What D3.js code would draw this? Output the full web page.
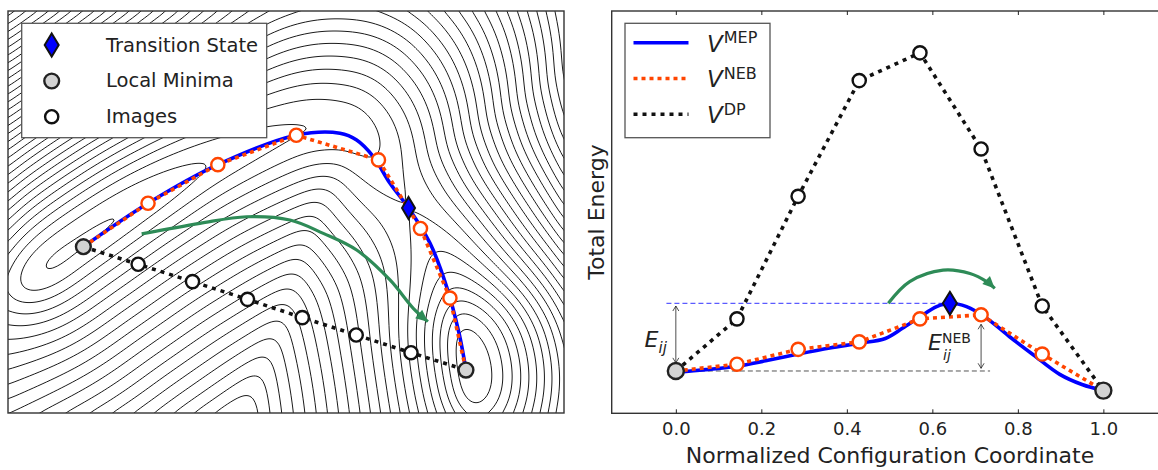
<!DOCTYPE html>
<html>
<head>
<meta charset="utf-8">
<script src="https://cdn.jsdelivr.net/npm/d3@7"></script>
<style>
  body { margin: 0; background: #fff; }
  svg { display: block; font-family: "DejaVu Sans", sans-serif; }
</style>
</head>
<body>
<svg id="fig" width="1158" height="470"></svg>
<script>
// ---------- right panel: energy along the normalized path ----------
const imageCoord = [0, 0.143, 0.286, 0.429, 0.571, 0.714, 0.857, 1.0];
const dpEnergy = [0, 0.77, 2.58, 4.29, 4.7, 3.28, 0.96, -0.29];
const nebEnergy = [0, 0.1, 0.32, 0.43, 0.77, 0.83, 0.25, -0.29];
const mepCoord = [0, 0.07, 0.143, 0.21, 0.286, 0.36, 0.429, 0.49, 0.53, 0.571, 0.61, 0.641, 0.68, 0.727, 0.78, 0.836, 0.898, 0.95, 1.0];
const mepEnergy = [-0.02, 0.02, 0.07, 0.15, 0.25, 0.34, 0.41, 0.48, 0.63, 0.8, 0.95, 1.0, 0.95, 0.78, 0.51, 0.24, -0.05, -0.2, -0.29];
const tsCoord = 0.641;
const tsEnergy = 1.0;
const xTicks = [0, 0.2, 0.4, 0.6, 0.8, 1.0];
const hopCoord = [0.497, 0.547, 0.625, 0.688, 0.727, 0.746];
const hopEnergy = [1.0, 1.32, 1.49, 1.44, 1.32, 1.22];

// ---------- left panel: configuration space (q1, q2) ----------
const nebQ1 = [-1.134, -0.82, -0.481, -0.1, 0.299, 0.503, 0.646, 0.724];
const nebQ2 = [0.71, 0.948, 1.159, 1.32, 1.185, 0.81, 0.429, 0.035];
const dpQ1 = [-1.134, -0.868, -0.604, -0.337, -0.071, 0.191, 0.457, 0.724];
const dpQ2 = [0.71, 0.614, 0.519, 0.422, 0.322, 0.227, 0.13, 0.035];
const mepQ1 = [-1.134, -0.82, -0.481, -0.1, 0.112, 0.193, 0.274, 0.355, 0.445, 0.549, 0.63, 0.69, 0.724];
const mepQ2 = [0.71, 0.948, 1.159, 1.32, 1.331, 1.294, 1.203, 1.057, 0.922, 0.73, 0.491, 0.238, 0.035];
const tsQ1 = 0.445;
const tsQ2 = 0.922;
const swingQ1 = [-0.851, -0.568, -0.341, -0.131, 0.031, 0.193, 0.355, 0.468, 0.539];
const swingQ2 = [0.78, 0.838, 0.874, 0.856, 0.783, 0.692, 0.528, 0.373, 0.3];

// valley spine of the model surface: position, energy and outer wall steepness
const spineQ1 = [-1.685, -1.393, -1.134, -0.82, -0.481, -0.1, 0.112, 0.193, 0.274, 0.355, 0.445, 0.549, 0.63, 0.69, 0.724, 0.743, 0.763];
const spineQ2 = [0.298, 0.5, 0.71, 0.948, 1.159, 1.32, 1.331, 1.294, 1.203, 1.057, 0.922, 0.73, 0.491, 0.238, 0.035, -0.129, -0.348];
const spineE = [1.6, 0.02, -0.1, -0.03, 0.22, 0.43, 0.47, 0.55, 0.73, 0.92, 1.02, 0.82, 0.3, -0.7, -0.85, -0.75, 0.6];
const spineWall = [0.04, 0.04, 0.04, 0.04, 0.036, 0.026, 0.02, 0.02, 0.024, 0.03, 0.035, 0.036, 0.036, 0.036, 0.036, 0.036, 0.036];
const innerWall = 0.021;
const innerFloor = 1.1;
const levels = d3.range(-0.75, 14, 0.25);

const colors = {
  mep: "#0000ff",
  neb: "#ff4500",
  dp: "#111",
  minimum: "#d3d3d3",
  swing: "#2e8b57",
  frame: "#333",
};

const svg = d3.select("#fig");
const defs = svg.append("defs");

defs
  .append("clipPath")
  .attr("id", "leftClip")
  .append("rect")
  .attr("x", 8)
  .attr("y", 11)
  .attr("width", 556)
  .attr("height", 402);

defs
  .append("marker")
  .attr("id", "swingHead")
  .attr("viewBox", "-13 -7 14 14")
  .attr("refX", 0)
  .attr("refY", 0)
  .attr("markerWidth", 14)
  .attr("markerHeight", 14)
  .attr("markerUnits", "userSpaceOnUse")
  .attr("orient", "auto")
  .append("path")
  .attr("d", "M-12,-5.5L0,0L-12,5.5Z")
  .attr("fill", colors.swing);

defs
  .append("marker")
  .attr("id", "gapHead")
  .attr("viewBox", "-7 -4 8 8")
  .attr("refX", 0)
  .attr("refY", 0)
  .attr("markerWidth", 8)
  .attr("markerHeight", 8)
  .attr("markerUnits", "userSpaceOnUse")
  .attr("orient", "auto-start-reverse")
  .append("path")
  .attr("d", "M-5,-3L0,0L-5,3")
  .attr("fill", "none")
  .attr("stroke", "#222")
  .attr("stroke-width", 0.8);

// ================= left panel =================
const xL = d3.scaleLinear().domain([-1.5, 1.2]).range([8, 564]);
const yL = d3.scaleLinear().domain([-0.2, 2.0]).range([413, 11]);

const knots = spineQ1.map((q, i) => [xL(q), yL(spineQ2[i]), spineE[i], spineWall[i]]);

// smooth the spine (Catmull-Rom) so the surface has no creases at the knots
const spine = [];
for (let i = 0; i < knots.length - 1; i++) {
  const p0 = knots[Math.max(0, i - 1)];
  const p1 = knots[i];
  const p2 = knots[i + 1];
  const p3 = knots[Math.min(knots.length - 1, i + 2)];
  for (let s = 0; s < 8; s++) {
    const t = s / 8;
    spine.push(
      p1.map((_, k) =>
        0.5 *
        (2 * p1[k] +
          (-p0[k] + p2[k]) * t +
          (2 * p0[k] - 5 * p1[k] + 4 * p2[k] - p3[k]) * t * t +
          (-p0[k] + 3 * p1[k] - 3 * p2[k] + p3[k]) * t * t * t)
      )
    );
  }
}
spine.push(knots[knots.length - 1]);

const segDist = new Float64Array(spine.length);
const segT = new Float64Array(spine.length);

function surface(px, py) {
  let best = Infinity;
  let side = 0;
  for (let i = 0; i < spine.length - 1; i++) {
    const a = spine[i];
    const b = spine[i + 1];
    const dx = b[0] - a[0];
    const dy = b[1] - a[1];
    let t = ((px - a[0]) * dx + (py - a[1]) * dy) / (dx * dx + dy * dy);
    t = Math.max(0, Math.min(1, t));
    const d2 = (px - a[0] - t * dx) ** 2 + (py - a[1] - t * dy) ** 2;
    segDist[i] = Math.sqrt(d2);
    segT[i] = t;
    if (d2 < best) {
      best = d2;
      side = dx * (py - a[1]) - dy * (px - a[0]);
    }
  }
  // soft nearest point: average spine energy and wall over nearby segments
  const dmin = Math.sqrt(best);
  let sw = 0;
  let se = 0;
  let sg = 0;
  for (let i = 0; i < spine.length - 1; i++) {
    const w = Math.exp(-(segDist[i] - dmin) / 14);
    if (w < 1e-4) continue;
    const a = spine[i];
    const b = spine[i + 1];
    const t = segT[i];
    sw += w;
    se += w * (a[2] + t * (b[2] - a[2]));
    sg += w * (a[3] + t * (b[3] - a[3]));
  }
  const energy = se / sw;
  const wall = sg / sw;
  const eps = 40;
  const h = Math.sqrt(best + eps * eps) - eps;
  if (side < 0) return energy + wall * h;
  // inside the bend the valley energy fades into a smooth raised floor
  const fade = Math.exp(-dmin / 55);
  return energy * fade + innerFloor * (1 - fade) + innerWall * h;
}

function boxBlur(src, w, h, r) {
  const tmp = new Float64Array(w * h);
  const out = new Float64Array(w * h);
  for (let j = 0; j < h; j++) {
    for (let i = 0; i < w; i++) {
      let s = 0;
      let n = 0;
      for (let k = -r; k <= r; k++) {
        const ii = i + k;
        if (ii >= 0 && ii < w) {
          s += src[j * w + ii];
          n++;
        }
      }
      tmp[j * w + i] = s / n;
    }
  }
  for (let j = 0; j < h; j++) {
    for (let i = 0; i < w; i++) {
      let s = 0;
      let n = 0;
      for (let k = -r; k <= r; k++) {
        const jj = j + k;
        if (jj >= 0 && jj < h) {
          s += tmp[jj * w + i];
          n++;
        }
      }
      out[j * w + i] = s / n;
    }
  }
  return out;
}

const step = 2;
const gx0 = 8 - 14;
const gy0 = 11 - 14;
const nx = Math.ceil((556 + 28) / step);
const ny = Math.ceil((402 + 28) / step);
let field = new Float64Array(nx * ny);
for (let j = 0; j < ny; j++) {
  for (let i = 0; i < nx; i++) {
    field[j * nx + i] = surface(gx0 + (i + 0.5) * step, gy0 + (j + 0.5) * step);
  }
}
for (let pass = 0; pass < 3; pass++) field = boxBlur(field, nx, ny, 4);

const contours = d3.contours().size([nx, ny]).thresholds(levels)(field);
const gridPath = d3.geoPath(d3.geoIdentity().scale(step).translate([gx0, gy0]));

const leftG = svg.append("g");
leftG.append("rect").attr("x", 8).attr("y", 11).attr("width", 556).attr("height", 402).attr("fill", "#fff");

leftG
  .append("g")
  .attr("clip-path", "url(#leftClip)")
  .selectAll("path")
  .data(contours)
  .join("path")
  .attr("d", gridPath)
  .attr("fill", "none")
  .attr("stroke", "#000")
  .attr("stroke-width", 0.9);

const qLine = d3
  .line()
  .x((d) => xL(d[0]))
  .y((d) => yL(d[1]));

leftG
  .append("path")
  .attr("d", qLine.curve(d3.curveCatmullRom)(d3.zip(mepQ1, mepQ2)))
  .attr("fill", "none")
  .attr("stroke", colors.mep)
  .attr("stroke-width", 3.6);

leftG
  .append("path")
  .attr("d", qLine.curve(d3.curveLinear)(d3.zip(nebQ1, nebQ2)))
  .attr("fill", "none")
  .attr("stroke", colors.neb)
  .attr("stroke-width", 3.6)
  .attr("stroke-dasharray", "4,4");

leftG
  .append("path")
  .attr("d", qLine.curve(d3.curveLinear)(d3.zip(dpQ1, dpQ2)))
  .attr("fill", "none")
  .attr("stroke", colors.dp)
  .attr("stroke-width", 3.6)
  .attr("stroke-dasharray", "4,5");

leftG
  .append("path")
  .attr("d", qLine.curve(d3.curveCatmullRom)(d3.zip(swingQ1, swingQ2)))
  .attr("fill", "none")
  .attr("stroke", colors.swing)
  .attr("stroke-width", 3.2)
  .attr("marker-end", "url(#swingHead)");

const inner = (arr) => arr.slice(1, -1);

leftG
  .selectAll("circle.dp")
  .data(d3.zip(inner(dpQ1), inner(dpQ2)))
  .join("circle")
  .attr("class", "dp")
  .attr("cx", (d) => xL(d[0]))
  .attr("cy", (d) => yL(d[1]))
  .attr("r", 6.6)
  .attr("fill", "#fff")
  .attr("stroke", colors.dp)
  .attr("stroke-width", 2.4);

leftG
  .selectAll("circle.neb")
  .data(d3.zip(inner(nebQ1), inner(nebQ2)))
  .join("circle")
  .attr("class", "neb")
  .attr("cx", (d) => xL(d[0]))
  .attr("cy", (d) => yL(d[1]))
  .attr("r", 6.6)
  .attr("fill", "#fff")
  .attr("stroke", colors.neb)
  .attr("stroke-width", 2.4);

leftG
  .selectAll("circle.min")
  .data([
    [nebQ1[0], nebQ2[0]],
    [nebQ1[7], nebQ2[7]],
  ])
  .join("circle")
  .attr("class", "min")
  .attr("cx", (d) => xL(d[0]))
  .attr("cy", (d) => yL(d[1]))
  .attr("r", 7.4)
  .attr("fill", colors.minimum)
  .attr("stroke", "#222")
  .attr("stroke-width", 2.4);

const diamond = (w, h) => `M0,${-h}L${w},0L0,${h}L${-w},0Z`;

leftG
  .append("path")
  .attr("transform", `translate(${xL(tsQ1)},${yL(tsQ2)})`)
  .attr("d", diamond(6.5, 11))
  .attr("fill", colors.mep)
  .attr("stroke", "#111")
  .attr("stroke-width", 2);

// legend (left)
const legL = leftG.append("g").attr("transform", "translate(21.7,23.3)");
legL.append("rect").attr("width", 245).attr("height", 114.4).attr("fill", "#fff").attr("stroke", "#555").attr("stroke-width", 1.3);
legL
  .append("path")
  .attr("transform", "translate(30,21.7)")
  .attr("d", diamond(7, 11.5))
  .attr("fill", colors.mep)
  .attr("stroke", "#111")
  .attr("stroke-width", 2);
legL.append("circle").attr("cx", 30).attr("cy", 57.7).attr("r", 7.4).attr("fill", colors.minimum).attr("stroke", "#222").attr("stroke-width", 2.4);
legL.append("circle").attr("cx", 30).attr("cy", 93.4).attr("r", 6.6).attr("fill", "#fff").attr("stroke", "#111").attr("stroke-width", 2.4);
legL
  .selectAll("text")
  .data(["Transition State", "Local Minima", "Images"])
  .join("text")
  .attr("x", 84.3)
  .attr("y", (d, i) => 28.4 + i * 35.6)
  .attr("font-size", 19.5)
  .attr("fill", "#222")
  .text((d) => d);

leftG
  .append("rect")
  .attr("x", 8)
  .attr("y", 11)
  .attr("width", 556)
  .attr("height", 402)
  .attr("fill", "none")
  .attr("stroke", colors.frame)
  .attr("stroke-width", 1.4);

// ================= right panel =================
const xR = d3.scaleLinear().domain([-0.15, 1.15]).range([611.7, 1167.5]);
const yR = d3.scaleLinear().domain([-0.625, 5.318]).range([413.3, 11]);
const rightG = svg.append("g");

rightG
  .append("rect")
  .attr("x", 611.7)
  .attr("y", 11)
  .attr("width", 600)
  .attr("height", 402.3)
  .attr("fill", "#fff")
  .attr("stroke", colors.frame)
  .attr("stroke-width", 1.4);

const bottomAxis = rightG
  .append("g")
  .attr("transform", "translate(0,413.3)")
  .call(d3.axisBottom(xR).tickValues(xTicks).tickSizeInner(-4).tickSizeOuter(0).tickPadding(9).tickFormat(d3.format(".1f")));
bottomAxis.select(".domain").remove();
bottomAxis.selectAll("text").attr("font-size", 18).attr("fill", "#222").attr("font-family", "DejaVu Sans");
bottomAxis.selectAll("line").attr("stroke", "#222");

const topAxis = rightG
  .append("g")
  .attr("transform", "translate(0,11)")
  .call(d3.axisTop(xR).tickValues(xTicks).tickSizeInner(-4).tickSizeOuter(0).tickFormat(""));
topAxis.select(".domain").remove();
topAxis.selectAll("line").attr("stroke", "#222");

rightG
  .append("text")
  .attr("x", 890)
  .attr("y", 463)
  .attr("text-anchor", "middle")
  .attr("font-size", 22)
  .attr("fill", "#222")
  .text("Normalized Configuration Coordinate");

rightG
  .append("text")
  .attr("transform", "translate(604,212) rotate(-90)")
  .attr("text-anchor", "middle")
  .attr("font-size", 22)
  .attr("fill", "#222")
  .text("Total Energy");

// reference levels
rightG
  .append("line")
  .attr("x1", xR(-0.022))
  .attr("x2", xR(tsCoord))
  .attr("y1", yR(tsEnergy))
  .attr("y2", yR(tsEnergy))
  .attr("stroke", "#3333ff")
  .attr("stroke-width", 1)
  .attr("stroke-dasharray", "5,3");

rightG
  .append("line")
  .attr("x1", xR(0))
  .attr("x2", xR(0.735))
  .attr("y1", yR(0))
  .attr("y2", yR(0))
  .attr("stroke", "#555")
  .attr("stroke-width", 1)
  .attr("stroke-dasharray", "5,3");

// barrier arrows
const gaps = [
  { x: 0.0, from: 0.12, to: 0.96 },
  { x: 0.714, from: 0.04, to: 0.69 },
];
rightG
  .selectAll("line.gap")
  .data(gaps)
  .join("line")
  .attr("class", "gap")
  .attr("x1", (d) => xR(d.x))
  .attr("x2", (d) => xR(d.x))
  .attr("y1", (d) => yR(d.from))
  .attr("y2", (d) => yR(d.to))
  .attr("stroke", "#222")
  .attr("stroke-width", 0.8)
  .attr("marker-start", "url(#gapHead)")
  .attr("marker-end", "url(#gapHead)");

const eLine = d3
  .line()
  .x((d) => xR(d[0]))
  .y((d) => yR(d[1]));

rightG
  .append("path")
  .attr("d", eLine.curve(d3.curveLinear)(d3.zip(imageCoord, dpEnergy)))
  .attr("fill", "none")
  .attr("stroke", colors.dp)
  .attr("stroke-width", 3.6)
  .attr("stroke-dasharray", "4,5");

rightG
  .append("path")
  .attr("d", eLine.curve(d3.curveCatmullRom)(d3.zip(mepCoord, mepEnergy)))
  .attr("fill", "none")
  .attr("stroke", colors.mep)
  .attr("stroke-width", 3.6);

rightG
  .append("path")
  .attr("d", eLine.curve(d3.curveLinear)(d3.zip(imageCoord, nebEnergy)))
  .attr("fill", "none")
  .attr("stroke", colors.neb)
  .attr("stroke-width", 3.6)
  .attr("stroke-dasharray", "4,4");

rightG
  .append("path")
  .attr("d", eLine.curve(d3.curveCatmullRom)(d3.zip(hopCoord, hopEnergy)))
  .attr("fill", "none")
  .attr("stroke", colors.swing)
  .attr("stroke-width", 3.2)
  .attr("marker-end", "url(#swingHead)");

rightG
  .selectAll("circle.dp")
  .data(d3.zip(inner(imageCoord), inner(dpEnergy)))
  .join("circle")
  .attr("class", "dp")
  .attr("cx", (d) => xR(d[0]))
  .attr("cy", (d) => yR(d[1]))
  .attr("r", 6.6)
  .attr("fill", "#fff")
  .attr("stroke", colors.dp)
  .attr("stroke-width", 2.4);

rightG
  .selectAll("circle.neb")
  .data(d3.zip(inner(imageCoord), inner(nebEnergy)))
  .join("circle")
  .attr("class", "neb")
  .attr("cx", (d) => xR(d[0]))
  .attr("cy", (d) => yR(d[1]))
  .attr("r", 6.6)
  .attr("fill", "#fff")
  .attr("stroke", colors.neb)
  .attr("stroke-width", 2.4);

rightG
  .selectAll("circle.min")
  .data([
    [imageCoord[0], dpEnergy[0]],
    [imageCoord[7], dpEnergy[7]],
  ])
  .join("circle")
  .attr("class", "min")
  .attr("cx", (d) => xR(d[0]))
  .attr("cy", (d) => yR(d[1]))
  .attr("r", 8)
  .attr("fill", colors.minimum)
  .attr("stroke", "#222")
  .attr("stroke-width", 2.4);

rightG
  .append("path")
  .attr("transform", `translate(${xR(tsCoord)},${yR(tsEnergy)})`)
  .attr("d", diamond(7, 11.5))
  .attr("fill", colors.mep)
  .attr("stroke", "#111")
  .attr("stroke-width", 2);

// barrier labels
const eij = rightG
  .append("text")
  .attr("x", xR(-0.073))
  .attr("y", yR(0.36))
  .attr("font-size", 22)
  .attr("font-style", "italic")
  .attr("fill", "#222");
eij.append("tspan").text("E");
eij.append("tspan").attr("font-size", 15).attr("dy", 6).text("ij");

const eneb = rightG
  .append("text")
  .attr("x", xR(0.59))
  .attr("y", yR(0.31))
  .attr("font-size", 22)
  .attr("font-style", "italic")
  .attr("fill", "#222");
eneb.append("tspan").text("E");
eneb.append("tspan").attr("font-size", 14).attr("font-style", "normal").attr("dy", -7).text("NEB");
eneb
  .append("tspan")
  .attr("font-size", 14)
  .attr("x", xR(0.625))
  .attr("dy", 17)
  .text("ij");

// legend (right)
const legR = rightG.append("g").attr("transform", "translate(625,23.3)");
legR.append("rect").attr("width", 145).attr("height", 114.4).attr("fill", "#fff").attr("stroke", "#555").attr("stroke-width", 1.3);
const legendRows = [
  { key: "MEP", color: colors.mep, dash: null },
  { key: "NEB", color: colors.neb, dash: "4,4" },
  { key: "DP", color: colors.dp, dash: "4,5" },
];
legendRows.forEach((row, i) => {
  const y = 19.4 + i * 35.8;
  legR
    .append("line")
    .attr("x1", 8.5)
    .attr("x2", 63.5)
    .attr("y1", y)
    .attr("y2", y)
    .attr("stroke", row.color)
    .attr("stroke-width", 3.6)
    .attr("stroke-dasharray", row.dash);
  const label = legR
    .append("text")
    .attr("x", 82)
    .attr("y", y + 9)
    .attr("font-size", 23)
    .attr("fill", "#222");
  label.append("tspan").attr("font-style", "italic").text("V");
  label.append("tspan").attr("font-size", 16).attr("dx", 1).attr("dy", -8.5).text(row.key);
});
</script>
</body>
</html>
